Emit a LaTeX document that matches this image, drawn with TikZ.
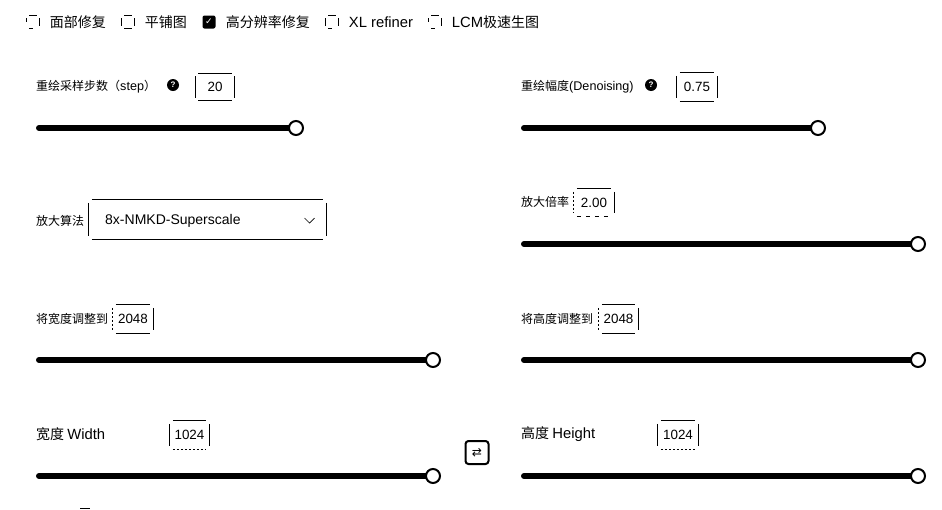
\documentclass[tikz,border=0pt]{standalone}
\usepackage{fontspec}
\setmainfont{Liberation Sans}
\newfontfamily\cjk{Noto Sans CJK SC}
\newfontfamily\symb{DejaVu Sans}
\usetikzlibrary{positioning,calc}
\newcommand{\biglat}{\fontsize{14.8}{16}\selectfont\rmfamily}
\newcommand{\smalllat}{\fontsize{12.6}{14}\selectfont\rmfamily}
\tikzstyle{track} = [draw, line width=6pt, line cap=round]
\tikzstyle{knob} = [circle,draw,fill=white,line width=2pt,inner sep=0pt,minimum size=14pt]
\tikzstyle{fieldlabel} = [anchor=west,inner sep=0pt,font=\fontsize{12}{14}\selectfont\cjk]
\tikzstyle{biglabel} = [anchor=west,inner sep=0pt,font=\fontsize{14}{16}\selectfont\cjk]
\tikzstyle{numbox} = [inner sep=0pt,font=\fontsize{13.4}{15}\selectfont]
\tikzstyle{info} = [circle,fill=black,text=white,inner sep=0pt,minimum size=12pt,font=\fontsize{8}{8}\selectfont\bfseries]
\tikzstyle{sparse} = [dash pattern=on 2pt off 2pt]
\tikzstyle{gappy} = [dash pattern=on 4pt off 5pt]
\tikzset{x=1pt,y=-1pt}
\newcommand{\sidesof}[3]{%
    \draw [line width=0.9pt] ($(#1.north west)+(3,0)$) -- ($(#1.north east)+(-3,0)$);
    \draw [line width=0.9pt] ($(#1.north east)+(0,3)$) -- ($(#1.south east)+(0,-3)$);
    \draw [line width=0.9pt,#2] ($(#1.north west)+(0,3)$) -- ($(#1.south west)+(0,-3)$);
    \draw [line width=0.9pt,#3] ($(#1.south west)+(3,0)$) -- ($(#1.south east)+(-3,0)$);
}

\begin{document}
\begin{tikzpicture}
    \useasboundingbox (0,0) rectangle (942,509);
    \foreach \name/\xa/\xb/\yy in {step/39/296/128,denoise/524/818/128,scale/524/918/244,wto/39/433/360,hto/524/918/360,width/39/433/476,height/524/918/476} {
        \coordinate (\name start) at (\xa,\yy);
        \coordinate (\name end) at (\xb,\yy);
        \draw [track] (\name start) -- (\name end);
        \node [knob] (\name knob) at (\name end) {};
    }
    \foreach \name/\xx/\txt/\lstyle/\bstyle in {face/33/面部修复/gappy/gappy,tile/128/平铺图/solid/solid,xl/332/{\biglat XL refiner}/solid/gappy,lcm/435/{\biglat LCM}极速生图/gappy/gappy} {
        \node [minimum size=13pt,inner sep=0pt] (\name box) at (\xx,22) {};
        \sidesof{\name box}{\lstyle}{\bstyle}
        \node [biglabel,right=10pt of \name box] (\name label) {\txt};
    }
    \node [fill=black,rounded corners=2pt,minimum size=13pt,inner sep=0pt,text=white,font=\fontsize{9}{9}\selectfont\symb] (hires box) at (209,22) {✓};
    \node [biglabel,right=10pt of hires box] (hires label) {高分辨率修复};
    \node [fieldlabel] (step label) at (36,87) {重绘采样步数（{\smalllat step}）};
    \node [info] (step info) at (173,85) {?};
    \node [numbox,minimum width=39pt,minimum height=27pt] (step num) at (215,87) {20};
    \sidesof{step num}{solid}{solid}
    \node [fieldlabel] (denoise label) at (521,87) {重绘幅度{\smalllat (Denoising)}};
    \node [info] (denoise info) at (651,85) {?};
    \node [numbox,minimum width=40pt,minimum height=28pt] (denoise num) at (697,87) {0.75};
    \sidesof{denoise num}{solid}{solid}
    \node [fieldlabel] (algo label) at (36,221) {放大算法};
    \node [minimum width=237pt,minimum height=39pt,inner sep=0pt] (algo box) at (207.5,219.5) {};
    \sidesof{algo box}{solid}{solid}
    \node [anchor=west,inner sep=0pt,font=\fontsize{14}{15}\selectfont] (algo text) at (105,220.5) {8x-NMKD-Superscale};
    \coordinate (arrow mid) at (309.5,223);
    \draw [line width=0.7pt] ($(arrow mid)+(-5,-5)$) -- (arrow mid) -- ($(arrow mid)+(5,-5)$);
    \node [fieldlabel] (scale label) at (521,202) {放大倍率};
    \node [numbox,minimum width=40pt,minimum height=27pt] (scale num) at (594,202.5) {2.00};
    \sidesof{scale num}{sparse}{gappy}
    \node [fieldlabel] (wto label) at (36,319) {将宽度调整到};
    \node [numbox,minimum width=40pt,minimum height=28pt] (wto num) at (133,319) {2048};
    \sidesof{wto num}{sparse}{solid}
    \node [fieldlabel] (hto label) at (521,319) {将高度调整到};
    \node [numbox,minimum width=39pt,minimum height=28pt] (hto num) at (618.5,319) {2048};
    \sidesof{hto num}{sparse}{solid}
    \node [biglabel] (width label) at (36,434) {宽度 {\biglat Width}};
    \node [numbox,minimum width=39pt,minimum height=28pt] (width num) at (189.5,435) {1024};
    \sidesof{width num}{solid}{sparse}
    \node [biglabel] (height label) at (521,434) {高度 {\biglat Height}};
    \node [numbox,minimum width=40pt,minimum height=28pt] (height num) at (678,435) {1024};
    \sidesof{height num}{solid}{sparse}
    \node [draw,line width=2pt,rounded corners=3pt,minimum size=23pt,inner sep=0pt,font=\fontsize{12}{12}\selectfont\symb] (swap btn) at (477,452.5) {⇄};
    \draw [line width=0.9pt] (80,508) -- (90,508);
\end{tikzpicture}
\end{document}
